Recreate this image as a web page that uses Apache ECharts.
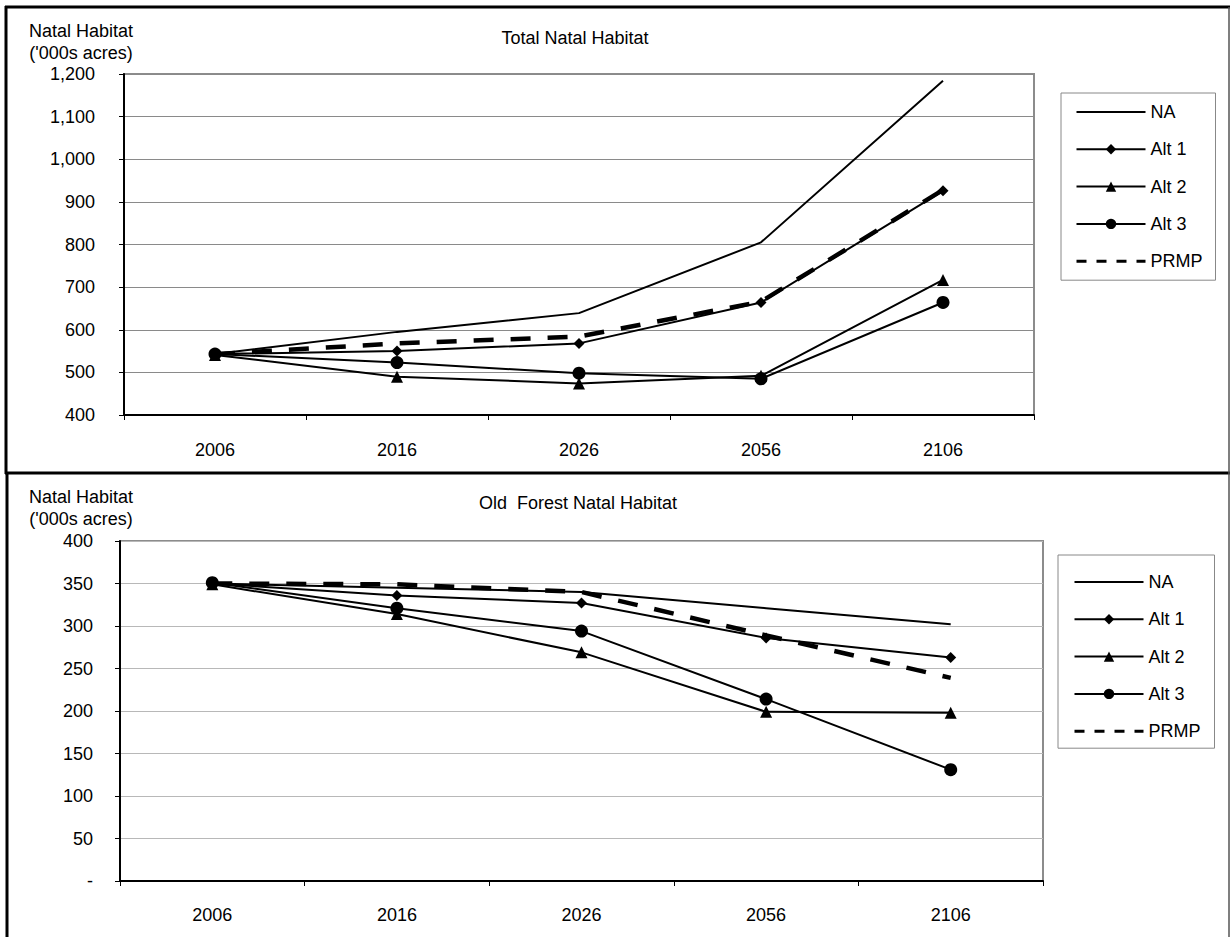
<!DOCTYPE html>
<html><head><meta charset="utf-8">
<script src="https://cdn.jsdelivr.net/npm/echarts@6/dist/echarts.min.js"></script>
<style>html,body{margin:0;padding:0;background:#fff}#c{width:1230px;height:937px}</style>
</head><body><div id="c"></div>
<script>
// ---- data ----
const years = ['2006', '2016', '2026', '2056', '2106'];
const seriesNames = ['NA', 'Alt 1', 'Alt 2', 'Alt 3', 'PRMP'];

// Total Natal Habitat ('000s acres)
const totalNA   = [543, 595, 639, 805, 1184];
const totalAlt1 = [543, 550, 568, 664, 926];
const totalAlt2 = [541, 490, 474, 492, 717];
const totalAlt3 = [543, 523, 498, 485, 664];
const totalPRMP = [543, 568, 584, 666, 928];

// Old Forest Natal Habitat ('000s acres)
const oldNA   = [350, 345, 340, 321, 302];
const oldAlt1 = [350, 336, 327, 286, 263];
const oldAlt2 = [349, 314, 269, 199, 198];
const oldAlt3 = [351, 321, 294, 214, 131];
const oldPRMP = [350, 349, 340, 289, 239];

const titles = ['Total Natal Habitat', 'Old  Forest Natal Habitat'];
const yName = ['Natal Habitat', "('000s acres)"];

// ---- styling ----
const FONT = "'Liberation Sans', Arial, sans-serif";
const FS = 18;

const chart = echarts.init(document.getElementById('c'), null, {renderer: 'svg'});

function mkSeries(gi, vals) {
  const sym = ['none', 'diamond', 'triangle', 'circle', 'none'];
  const sz = [0, 11, 12, 13, 0];
  return seriesNames.map((n, i) => ({
    name: n, type: 'line', xAxisIndex: gi, yAxisIndex: gi, data: vals[i],
    symbol: sym[i], symbolSize: sz[i], showSymbol: sym[i] !== 'none',
    color: '#000',
    itemStyle: {color: '#000'},
    lineStyle: n === 'PRMP' ? {color: '#000', width: 4.5, type: [20, 17]} : {color: '#000', width: 2},
    emphasis: {disabled: true}, animation: false, z: n === 'PRMP' ? 5 : 3
  }));
}

function mkLegendData() {
  return seriesNames.map(n => {
    if (n === 'NA') return {name: n, itemStyle: {opacity: 0}};
    if (n === 'PRMP') return {name: n, itemStyle: {opacity: 0}, lineStyle: {type: [10, 10], width: 3}};
    return {name: n};
  });
}

function mkLegend(left, top, padding) {
  return {
    orient: 'vertical', left: left, top: top, padding: padding,
    itemGap: 19.3, itemWidth: 69, itemHeight: 13,
    backgroundColor: '#fff', borderColor: '#888', borderWidth: 1, borderRadius: 0,
    textStyle: {color: '#000', fontSize: FS, fontFamily: FONT, lineHeight: 18},
    selectedMode: false, data: mkLegendData()
  };
}

function xAx(gi, margin) {
  return {
    gridIndex: gi, type: 'category', data: years, boundaryGap: true,
    axisLine: {show: true, lineStyle: {color: '#000', width: 2}},
    axisTick: {show: true, length: 5, lineStyle: {color: '#000', width: 1}},
    axisLabel: {color: '#000', fontSize: FS, fontFamily: FONT, margin: margin},
    splitLine: {show: false}
  };
}
function yAx(gi, min, max, interval, fmt, margin, gridColor) {
  return {
    gridIndex: gi, type: 'value', min: min, max: max, interval: interval,
    axisLine: {show: true, lineStyle: {color: '#000', width: 2}},
    axisTick: {show: true, length: 5, lineStyle: {color: '#000', width: 1}},
    axisLabel: {color: '#000', fontSize: FS, fontFamily: FONT, margin: margin, formatter: fmt},
    splitLine: {show: true, lineStyle: {color: gridColor, width: 1}}
  };
}

function txt(x, y, t) {
  return {type: 'text', x: x, y: y, silent: true, z: 20,
    style: {text: t, fill: '#000', font: FS + 'px ' + FONT, align: 'center', verticalAlign: 'middle'}};
}
function ln(x1, y1, x2, y2, w, c) {
  return {type: 'line', silent: true, z: 30, shape: {x1, y1, x2, y2}, style: {stroke: c, lineWidth: w}};
}

const option = {
  backgroundColor: '#fff',
  animation: false,
  grid: [
    {left: 124, top: 74, width: 910, height: 341, show: true, borderColor: '#8c8c8c', borderWidth: 2, backgroundColor: '#fff'},
    {left: 120, top: 541, width: 923, height: 340, show: true, borderColor: '#8c8c8c', borderWidth: 2, backgroundColor: '#fff'}
  ],
  xAxis: [xAx(0, 26), xAx(1, 25)],
  yAxis: [
    yAx(0, 400, 1200, 100, v => v.toLocaleString('en-US'), 29, '#8a8a8a'),
    yAx(1, 0, 400, 50, v => (v === 0 ? '-' : String(v)), 27, '#b8b8b8')
  ],
  legend: [mkLegend(1061, 93, [10, 13, 10, 14]), mkLegend(1058, 555, [18, 14, 8, 15])],
  series: [
    ...mkSeries(0, [totalNA, totalAlt1, totalAlt2, totalAlt3, totalPRMP]),
    ...mkSeries(1, [oldNA, oldAlt1, oldAlt2, oldAlt3, oldPRMP])
  ],
  graphic: [
    ln(5, 7, 1230, 7, 3, '#000'),
    ln(6, 6, 6, 474, 3, '#000'),
    ln(5, 473, 1230, 473, 3, '#000'),
    ln(7, 473, 7, 937, 3, '#000'),
    ln(1229, 7, 1229, 937, 1.5, '#555'),
    txt(575, 38, titles[0]),
    txt(81, 31, yName[0]),
    txt(81, 53, yName[1]),
    txt(578, 503, titles[1]),
    txt(81, 497, yName[0]),
    txt(81, 519, yName[1])
  ]
};
chart.setOption(option);
</script>
</body></html>
